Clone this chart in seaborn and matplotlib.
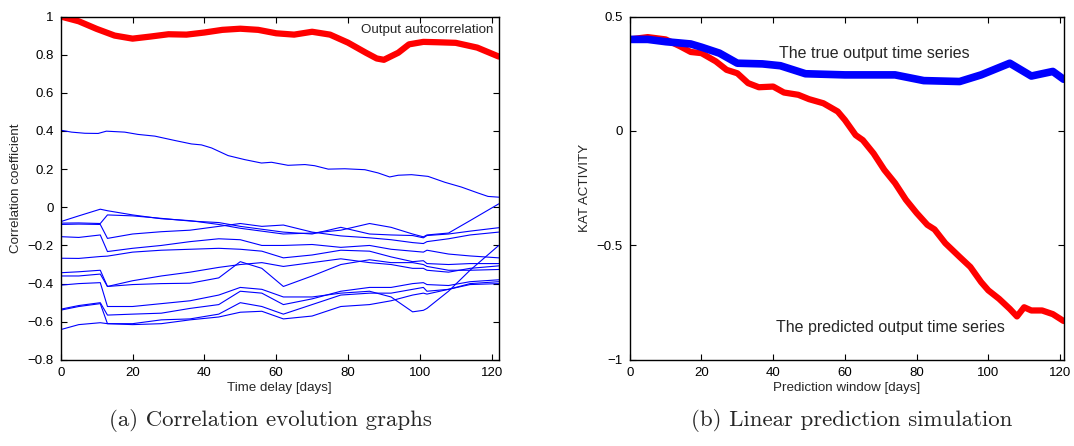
import numpy as np
import pandas as pd
import seaborn as sns
import matplotlib.pyplot as plt

# ---- (a) correlation evolution ----
red_days = [0, 5, 10, 15, 20, 25, 30, 35, 40, 45, 50, 55, 60, 65, 70, 75, 80, 85, 88, 90, 94, 97, 101, 105, 110, 116, 122]
red_auto = [1.0, 0.975, 0.935, 0.90, 0.884, 0.895, 0.907, 0.905, 0.916, 0.93, 0.936, 0.93, 0.912, 0.905, 0.92, 0.905, 0.863, 0.81,
            0.78, 0.773, 0.81, 0.854, 0.867, 0.865, 0.862, 0.837, 0.79]

top_days = [0, 3, 6.7, 10.4, 12.7, 17.8, 21.5, 26.2, 31.8, 36.4, 39.2, 42, 46.6, 51.2, 55.9, 58.7, 63.3, 68, 70.7, 74.5, 79.1,
            84.7, 88.4, 91.6, 94, 97.7, 102.3, 107, 111.6, 116.2, 119, 122]
top_line = [0.404, 0.394, 0.388, 0.387, 0.399, 0.394, 0.382, 0.373, 0.35, 0.332, 0.327, 0.311, 0.271, 0.25, 0.232, 0.236, 0.22,
            0.224, 0.218, 0.2, 0.202, 0.197, 0.18, 0.159, 0.168, 0.171, 0.162, 0.131, 0.106, 0.075, 0.057, 0.053]

days = [0, 5, 11, 13, 20, 28, 36, 44, 50, 56, 62, 70, 78, 86, 92, 98, 101, 102, 108, 114, 122]
line_1 = [-0.075, -0.045, -0.010, -0.018, -0.040, -0.060, -0.070, -0.090, -0.110, -0.125, -0.140, -0.135, -0.120, -0.085, -0.105, -0.140, -0.155, -0.145, -0.135, -0.070, 0.018]
line_2 = [-0.083, -0.082, -0.085, -0.040, -0.045, -0.058, -0.072, -0.080, -0.100, -0.115, -0.130, -0.140, -0.105, -0.140, -0.145, -0.148, -0.160, -0.148, -0.140, -0.125, -0.107]
line_3 = [-0.090, -0.088, -0.090, -0.163, -0.140, -0.128, -0.120, -0.100, -0.085, -0.100, -0.093, -0.130, -0.150, -0.160, -0.170, -0.185, -0.190, -0.180, -0.165, -0.145, -0.130]
line_4 = [-0.154, -0.158, -0.145, -0.232, -0.215, -0.200, -0.180, -0.165, -0.170, -0.200, -0.200, -0.195, -0.210, -0.200, -0.220, -0.230, -0.235, -0.225, -0.245, -0.255, -0.265]
line_5 = [-0.267, -0.268, -0.258, -0.256, -0.235, -0.225, -0.220, -0.215, -0.220, -0.230, -0.265, -0.250, -0.225, -0.230, -0.260, -0.285, -0.280, -0.295, -0.300, -0.295, -0.295]
line_6 = [-0.343, -0.338, -0.330, -0.415, -0.385, -0.360, -0.340, -0.315, -0.300, -0.290, -0.310, -0.290, -0.270, -0.290, -0.300, -0.320, -0.320, -0.330, -0.340, -0.320, -0.307]
line_7 = [-0.360, -0.360, -0.350, -0.415, -0.405, -0.400, -0.398, -0.370, -0.285, -0.320, -0.415, -0.360, -0.300, -0.275, -0.290, -0.290, -0.300, -0.310, -0.330, -0.330, -0.326]
line_8 = [-0.408, -0.400, -0.395, -0.520, -0.520, -0.505, -0.490, -0.460, -0.420, -0.430, -0.470, -0.470, -0.450, -0.440, -0.470, -0.548, -0.540, -0.530, -0.440, -0.330, -0.200]
line_9 = [-0.534, -0.515, -0.500, -0.565, -0.560, -0.555, -0.530, -0.510, -0.440, -0.450, -0.510, -0.480, -0.440, -0.420, -0.420, -0.400, -0.395, -0.405, -0.410, -0.390, -0.380]
line_10 = [-0.539, -0.520, -0.505, -0.610, -0.610, -0.590, -0.585, -0.560, -0.500, -0.520, -0.560, -0.510, -0.460, -0.450, -0.450, -0.430, -0.420, -0.440, -0.430, -0.400, -0.390]
line_11 = [-0.641, -0.615, -0.605, -0.610, -0.615, -0.610, -0.590, -0.575, -0.550, -0.545, -0.585, -0.570, -0.520, -0.510, -0.490, -0.460, -0.450, -0.455, -0.430, -0.405, -0.400]

# ---- (b) linear prediction ----
true_days = [0, 5, 10, 17, 20, 25, 30, 37, 42, 49, 60, 74, 82, 92, 98, 106, 112, 118, 121]
true_kat = [0.40, 0.40, 0.39, 0.38, 0.366, 0.34, 0.296, 0.293, 0.285, 0.25, 0.245, 0.245, 0.22, 0.216, 0.245, 0.296, 0.24, 0.26, 0.226]
pred_days = [0, 5, 10, 14, 17, 20, 24, 27, 30, 33, 36, 40, 43, 47, 50, 54, 58, 60, 63, 65, 68, 71, 74, 77, 80, 83, 85, 88,
             92, 95, 98, 100, 103, 106, 108, 110, 112, 115, 118, 121]
pred_kat = [0.40, 0.41, 0.40, 0.37, 0.345, 0.34, 0.304, 0.267, 0.252, 0.209, 0.191, 0.194, 0.168, 0.158, 0.139, 0.121, 0.085,
            0.048, -0.018, -0.04, -0.098, -0.17, -0.228, -0.30, -0.358, -0.41, -0.43, -0.49, -0.55, -0.594, -0.66, -0.696,
            -0.733, -0.777, -0.81, -0.77, -0.784, -0.784, -0.80, -0.83]

sns.set_style("ticks")
plt.rcParams['font.family'] = ['Liberation Sans', 'DejaVu Sans']
plt.rcParams['xtick.direction'] = 'in'
plt.rcParams['ytick.direction'] = 'in'

fig = plt.figure(figsize=(10.74, 4.46), dpi=100)
ax1 = fig.add_axes([0.0566, 0.193, 0.4078, 0.770])
ax2 = fig.add_axes([0.5864, 0.193, 0.4039, 0.770])

# blue correlation curves in long form
lows = [line_1, line_2, line_3, line_4, line_5, line_6, line_7, line_8, line_9, line_10, line_11]
frames = [pd.DataFrame({'day': top_days, 'corr': top_line, 'series': 0})]
for i, ln in enumerate(lows):
    frames.append(pd.DataFrame({'day': days, 'corr': ln, 'series': i + 1}))
corr_df = pd.concat(frames, ignore_index=True)

sns.lineplot(data=corr_df, x='day', y='corr', units='series', estimator=None, color='#0000ff', lw=0.8, ax=ax1)
sns.lineplot(x=red_days, y=red_auto, color='#ff0000', lw=4.5, ax=ax1)
ax1.text(120.5, 0.93, 'Output autocorrelation', ha='right', va='center', fontsize=9.6)
ax1.set_xlim(0, 122)
ax1.set_ylim(-0.8, 1)
ax1.set_xticks(range(0, 121, 20))
ax1.set_yticks(np.arange(-0.8, 1.01, 0.2))
ax1.set_yticklabels(['\u22120.8', '\u22120.6', '\u22120.4', '\u22120.2', '0', '0.2', '0.4', '0.6', '0.8', '1'])
ax1.set_xlabel('Time delay [days]', fontsize=9.6, labelpad=2)
ax1.set_ylabel('Correlation coefficient', fontsize=9.6)

sns.lineplot(x=pred_days, y=pred_kat, color='#ff0000', lw=4.5, ax=ax2)
sns.lineplot(x=true_days, y=true_kat, color='#0000ff', lw=5.5, ax=ax2)
ax2.text(41.5, 0.34, 'The true output time series', ha='left', va='center', fontsize=11.5)
ax2.text(40.8, -0.857, 'The predicted output time series', ha='left', va='center', fontsize=11.5)
ax2.set_xlim(0, 121)
ax2.set_ylim(-1, 0.5)
ax2.set_xticks(range(0, 121, 20))
ax2.set_yticks([-1, -0.5, 0, 0.5])
ax2.set_yticklabels(['\u22121', '\u22120.5', '0', '0.5'])
ax2.set_xlabel('Prediction window [days]', fontsize=9.6, labelpad=2)
ax2.set_ylabel('KAT ACTIVITY', fontsize=9.6)

for ax in (ax1, ax2):
    ax.tick_params(which='both', top=True, right=True, length=4, width=0.8, labelsize=9.5, colors='black', pad=5)
    for s in ax.spines.values():
        s.set_visible(True)
        s.set_color('black')
        s.set_linewidth(1.0)

fig.text(0.2514, 0.058, '(a) Correlation evolution graphs', family='cmr10', fontsize=16.5, ha='center', va='center')
fig.text(0.793, 0.058, '(b) Linear prediction simulation', family='cmr10', fontsize=16.5, ha='center', va='center')

fig.savefig('out.png', dpi=100, facecolor='white')
